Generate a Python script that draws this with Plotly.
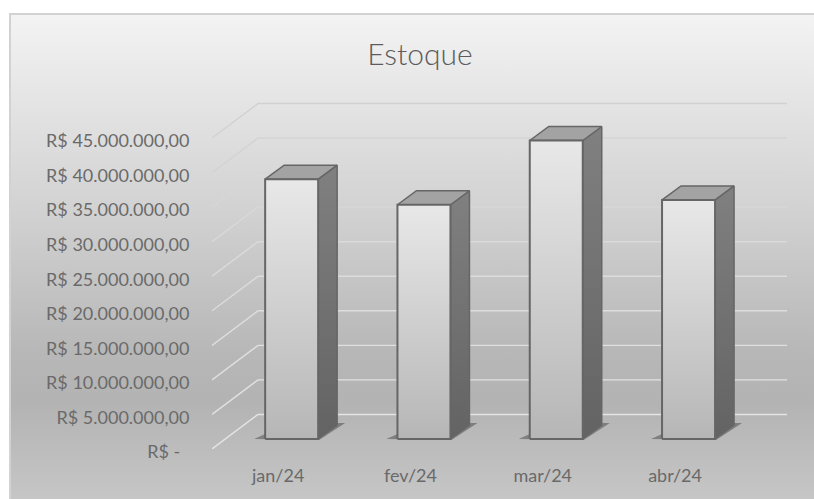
import plotly.graph_objects as go

# ---- data ----
categories = ["jan/24", "fev/24", "mar/24", "abr/24"]
estoque = [37600000, 33900000, 43200000, 34600000]
tick_values = [0, 5e6, 10e6, 15e6, 20e6, 25e6, 30e6, 35e6, 40e6, 45e6]
tick_labels = ["R$ -\u00a0\u00a0", "R$ 5.000.000,00", "R$ 10.000.000,00", "R$ 15.000.000,00",
               "R$ 20.000.000,00", "R$ 25.000.000,00", "R$ 30.000.000,00", "R$ 35.000.000,00",
               "R$ 40.000.000,00", "R$ 45.000.000,00"]
grid_colors = ["#e4e4e4", "#e2e2e2", "#e0e0e0", "#dedede", "#dcdcdc",
               "#dadada", "#d8d8d8", "#d6d6d6", "#d3d3d3", "#d1d1d1"]
title_text = "Estoque"

# ---- projection of the 3D look, in axis units ----
W, H = 814, 499
PX_CAT = 132.3               # px per category
PX_VAL = 34.55 / 5e6         # px per value unit
WALL_DX = 46 / PX_CAT        # full depth of the floor
WALL_DY = 5e6
BAR_X0 = 13.5 / PX_CAT       # front of bars, into the floor
BAR_Y0 = 10 / PX_VAL
BAR_W = 53 / PX_CAT
BAR_DX = 19 / PX_CAT
BAR_DY = 14 / PX_VAL
X0_PX, Y0_PX = 212, 449
XMAX = -0.5 + (787 - X0_PX) / PX_CAT
YMAX = (Y0_PX - 100) / PX_VAL

FONT = "Lato, Carlito, Calibri, sans-serif"
TXT = "#6a6a6a"

fig = go.Figure()

# chart frame with its gradient
fig.add_trace(go.Scatter(
    x=[0, 1, 1, 0, 0], y=[0, 0, 1, 1, 0], mode="lines", line=dict(width=0),
    fill="toself", hoverinfo="skip", showlegend=False, xaxis="x", yaxis="y",
    fillgradient=dict(type="vertical", start=0, stop=1, colorscale=[
        [0.0, "#c6c6c6"], [0.2, "#b3b3b3"], [0.3, "#b7b7b7"], [0.6, "#d2d2d2"], [1.0, "#f3f3f3"]]),
))

# walls: gridlines
for v, col in zip(tick_values, grid_colors):
    fig.add_trace(go.Scatter(x=[-0.5, -0.5 + WALL_DX, XMAX], y=[v, v + WALL_DY, v + WALL_DY],
                             mode="lines", line=dict(color=col, width=1.4),
                             hoverinfo="skip", showlegend=False, xaxis="x2", yaxis="y2"))

for i, (cat, val) in enumerate(zip(categories, estoque)):
    left = i - BAR_W / 2 + BAR_X0
    right = left + BAR_W
    top = BAR_Y0 + val
    # contact shadow on the floor
    fig.add_trace(go.Scatter(
        x=[left - 11 / PX_CAT, right + 1 / PX_CAT, right + BAR_DX + 8 / PX_CAT, right + BAR_DX, left],
        y=[BAR_Y0, BAR_Y0 - 1 / PX_VAL, BAR_Y0 + BAR_DY + 2 / PX_VAL, BAR_Y0 + BAR_DY + 2 / PX_VAL, BAR_Y0 + 5 / PX_VAL],
        mode="lines", line=dict(width=0), fill="toself", fillcolor="rgba(70,70,70,0.5)",
        hoverinfo="skip", showlegend=False, xaxis="x2", yaxis="y2"))
    # side face
    fig.add_trace(go.Scatter(
        x=[right, right + BAR_DX, right + BAR_DX, right, right],
        y=[BAR_Y0, BAR_Y0 + BAR_DY, top + BAR_DY, top, BAR_Y0],
        mode="lines", line=dict(color="#666666", width=1.5), fill="toself",
        fillgradient=dict(type="vertical", start=BAR_Y0, stop=top + BAR_DY,
                          colorscale=[[0, "#636363"], [1, "#808080"]]),
        hoverinfo="skip", showlegend=False, xaxis="x2", yaxis="y2"))
    # top face
    fig.add_trace(go.Scatter(
        x=[left, right, right + BAR_DX, left + BAR_DX, left],
        y=[top, top, top + BAR_DY, top + BAR_DY, top],
        mode="lines", line=dict(color="#666666", width=1.5), fill="toself", fillcolor="#a3a3a3",
        hoverinfo="skip", showlegend=False, xaxis="x2", yaxis="y2"))
    # front face
    fig.add_trace(go.Scatter(
        x=[left, right, right, left, left],
        y=[BAR_Y0, BAR_Y0, top, top, BAR_Y0],
        mode="lines", line=dict(color="#666666", width=2), fill="toself",
        fillgradient=dict(type="vertical", start=BAR_Y0, stop=top,
                          colorscale=[[0, "#b6b6b6"], [1, "#e8e8e8"]]),
        name=cat, text=[f"{cat}: {val:,.0f}"] * 5, hoverinfo="text", showlegend=False,
        xaxis="x2", yaxis="y2"))

fig.update_layout(
    width=W, height=H, margin=dict(l=0, r=0, t=0, b=0),
    paper_bgcolor="white", plot_bgcolor="rgba(0,0,0,0)", showlegend=False,
    font=dict(family=FONT, color=TXT, size=18),
    title=dict(text=title_text, x=420 / W, xanchor="center", y=1 - 54 / H, yanchor="middle",
               automargin=False, font=dict(family=FONT, size=30, color="#5c5c5c", weight=300)),
    xaxis=dict(domain=[11 / W, 1], range=[0, 1], automargin=False, showgrid=False, zeroline=False,
               showticklabels=False, ticks="", side="top", showline=True, linecolor="#d2d2d2", linewidth=2),
    yaxis=dict(domain=[0, 1 - 15 / H], range=[0, 1], automargin=False, showgrid=False, zeroline=False,
               showticklabels=False, ticks="", showline=True, linecolor="#d2d2d2", linewidth=2),
    xaxis2=dict(domain=[X0_PX / W, 787 / W], range=[-0.5, XMAX], anchor="y2", automargin=False,
                tickmode="array", tickvals=list(range(len(categories))), ticktext=categories,
                showgrid=False, zeroline=False, showline=False, ticks="outside", ticklen=10,
                tickcolor="rgba(0,0,0,0)", tickfont=dict(family=FONT, size=18, color=TXT)),
    yaxis2=dict(domain=[1 - Y0_PX / H, 1 - 100 / H], range=[0, YMAX], anchor="x2", automargin=False,
                tickmode="array", tickvals=tick_values, ticktext=tick_labels, ticklabelshift=3,
                showgrid=False, zeroline=False, showline=False, ticks="outside", ticklen=18,
                tickcolor="rgba(0,0,0,0)", tickfont=dict(family=FONT, size=18, color=TXT)),
)

fig.write_html("out.html", config={"displayModeBar": False},
               post_script="document.body.style.margin='0';")
